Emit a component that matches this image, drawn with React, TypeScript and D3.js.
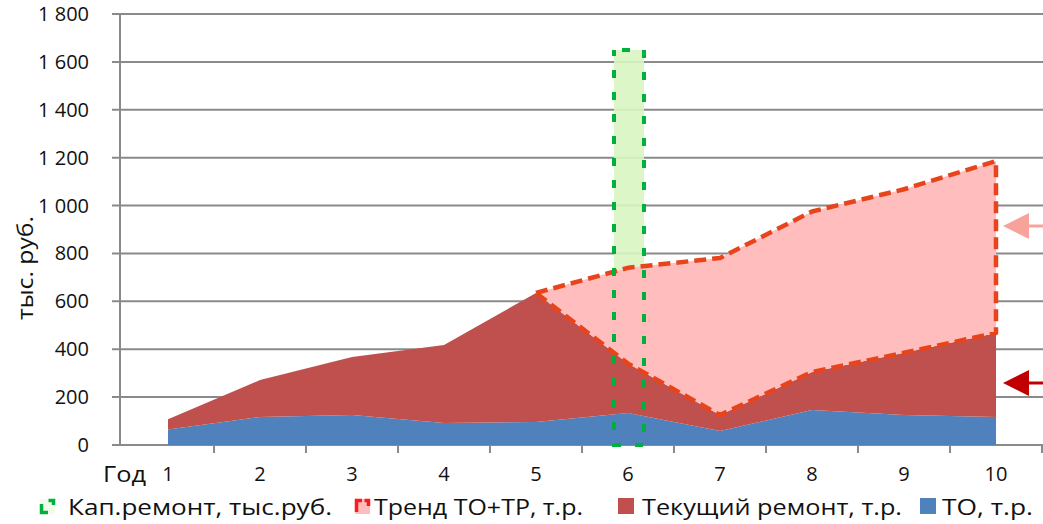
import React from "react";
import * as d3 from "d3";

const years = ["1", "2", "3", "4", "5", "6", "7", "8", "9", "10"];
const toValues = [65, 117, 125, 92, 96, 134, 58, 146, 125, 117];
const repairValues = [43, 154, 242, 326, 539, 206, 67, 159, 260, 351];
const trendTotal: (number | null)[] = [null, null, null, null, 635, 740, 781, 975, 1068, 1186];
const capRepair = [0, 0, 0, 0, 0, 1650, 0, 0, 0, 0];
const yTicks = [0, 200, 400, 600, 800, 1000, 1200, 1400, 1600, 1800];
const legendLabels = ["Кап.ремонт, тыс.руб.", "Тренд ТО+ТР, т.р.", "Текущий ремонт, т.р.", "ТО, т.р."];

const W = 1043;
const H = 524;
const FONT = "'Open Sans', 'DejaVu Sans', sans-serif";
const C_BLUE = "#4f81bd";
const C_RED = "#c0504d";
const C_PINK = "#ffbdbd";
const C_ORANGE = "#e8441c";
const C_GREEN = "#00b03c";
const C_GREEN_FILL = "#d9f5c1";
const C_GRID = "#8a8a8a";
const C_TEXT = "#111111";

function fmt(v: number) {
  const s = String(v);
  return s.length > 3 ? s.slice(0, s.length - 3) + "\u00a0" + s.slice(s.length - 3) : s;
}

export default function App() {
  const x = d3.scaleBand<string>().domain(years).range([122, 1042]).paddingInner(0).paddingOuter(0);
  const y = d3.scaleLinear().domain([0, 1800]).range([445, 14]);
  const cx = (i: number) => (x(years[i]) as number) + x.bandwidth() / 2;

  const stacked = years.map((_, i) => ({
    i,
    to: toValues[i],
    total: toValues[i] + repairValues[i],
    trend: trendTotal[i],
  }));

  const blueArea = d3
    .area<any>()
    .x((d) => cx(d.i))
    .y0(() => y(0))
    .y1((d) => y(d.to))(stacked) as string;

  const redArea = d3
    .area<any>()
    .x((d) => cx(d.i))
    .y0((d) => y(d.to))
    .y1((d) => y(d.total))(stacked) as string;

  const trendPts = stacked.filter((d) => d.trend !== null);
  const pinkArea = d3
    .area<any>()
    .x((d) => cx(d.i))
    .y0((d) => y(d.total))
    .y1((d) => y(d.trend))(trendPts) as string;

  const topLine = trendPts.map((d) => [cx(d.i), y(d.trend as number)] as [number, number]);
  const botLine = trendPts
    .slice()
    .reverse()
    .map((d) => [cx(d.i), y(d.total)] as [number, number]);
  const outline = d3.line()([...topLine, ...botLine]) as string;

  const barW = 30;
  const bars = capRepair
    .map((v, i) => ({ v, i }))
    .filter((d) => d.v > 0)
    .map((d) => ({ x: cx(d.i) - barW / 2 + 1, y: y(d.v), w: barW, h: y(0) - y(d.v) }));

  const boundaries = years.slice(1).map((yr) => x(yr) as number).concat([1042]);

  const arrow = (yy: number, color: string, key: string) => (
    <g key={key}>
      <line x1={1026} x2={1043} y1={yy} y2={yy} stroke={color} strokeWidth={3} />
      <path d={`M1003,${yy} L1029,${yy - 13} L1029,${yy + 13} Z`} fill={color} />
    </g>
  );

  return (
    <svg
      width={W}
      height={H}
      viewBox={`0 0 ${W} ${H}`}
      style={{ position: "absolute", left: 0, top: 0, display: "block", background: "#fff" }}
    >
      <rect x={0} y={0} width={W} height={H} fill="#fff" />
      {yTicks.map((t) => (
        <line key={"g" + t} x1={112} x2={W} y1={y(t)} y2={y(t)} stroke={C_GRID} strokeWidth={2} />
      ))}
      {bars.map((b, k) => (
        <rect key={"bf" + k} x={b.x} y={b.y} width={b.w} height={b.h} fill={C_GREEN_FILL} opacity={0.9} />
      ))}
      <path d={blueArea} fill={C_BLUE} />
      <path d={redArea} fill={C_RED} />
      <path d={pinkArea} fill={C_PINK} />
      <path
        d={outline}
        fill="none"
        stroke={C_ORANGE}
        strokeWidth={4.5}
        strokeDasharray="12 6"
        strokeLinejoin="round"
      />
      {bars.map((b, k) => (
        <rect
          key={"bo" + k}
          x={b.x}
          y={b.y}
          width={b.w}
          height={b.h}
          fill="none"
          stroke={C_GREEN}
          strokeWidth={4}
          strokeDasharray="8 14"
          strokeDashoffset={-8}
        />
      ))}
      <line x1={120} x2={120} y1={y(1800)} y2={y(0) + 1} stroke={C_GRID} strokeWidth={2} />
      {boundaries.map((bx, k) => (
        <line key={"xt" + k} x1={bx} x2={bx} y1={y(0)} y2={y(0) + 8} stroke={C_GRID} strokeWidth={2} />
      ))}
      {yTicks.map((t) => (
        <text
          key={"yl" + t}
          x={89}
          y={y(t) + 7}
          textAnchor="end"
          fontFamily={FONT}
          fontSize={20}
          fill={C_TEXT}
        >
          {fmt(t)}
        </text>
      ))}
      <text
        transform={`translate(33,268) rotate(-90)`}
        textAnchor="middle"
        fontFamily={FONT}
        fontSize={22}
        fill={C_TEXT}
        textLength={104}
        lengthAdjust="spacingAndGlyphs"
      >
        тыс. руб.
      </text>
      <text x={103} y={482} fontFamily={FONT} fontSize={22} fill={C_TEXT} textLength={43} lengthAdjust="spacingAndGlyphs">
        Год
      </text>
      {years.map((yr, i) => (
        <text key={"xl" + yr} x={cx(i)} y={481} textAnchor="middle" fontFamily={FONT} fontSize={20} fill={C_TEXT}>
          {yr}
        </text>
      ))}
      {arrow(226, "#f8a29c", "a1")}
      {arrow(383, "#c00000", "a2")}
      <g>
        <rect x={40} y={499} width={15} height={15} fill="#f2fbea" />
        <path d="M41.5,504 V512.5 H48" fill="none" stroke={C_GREEN} strokeWidth={3.5} />
        <path d="M48.5,500.5 H53.5 V505" fill="none" stroke={C_GREEN} strokeWidth={3.5} />
        <text x={68} y={515} fontFamily={FONT} fontSize={22} fill={C_TEXT} textLength={264} lengthAdjust="spacingAndGlyphs">
          {legendLabels[0]}
        </text>

        <rect x={355} y={499} width={15} height={15} fill={C_PINK} />
        <path d="M356.5,512 V500.5 H362" fill="none" stroke="#ff1a1a" strokeWidth={3.5} />
        <path d="M364.5,500.5 H368.5 V506" fill="none" stroke="#ff1a1a" strokeWidth={3.5} />
        <text x={374} y={515} fontFamily={FONT} fontSize={22} fill={C_TEXT} textLength={209} lengthAdjust="spacingAndGlyphs">
          {legendLabels[1]}
        </text>

        <rect x={618} y={498} width={16} height={16} fill={C_RED} />
        <text x={642} y={515} fontFamily={FONT} fontSize={22} fill={C_TEXT} textLength={260} lengthAdjust="spacingAndGlyphs">
          {legendLabels[2]}
        </text>

        <rect x={920} y={498} width={16} height={16} fill={C_BLUE} />
        <text x={942} y={515} fontFamily={FONT} fontSize={22} fill={C_TEXT} textLength={91} lengthAdjust="spacingAndGlyphs">
          {legendLabels[3]}
        </text>
      </g>
    </svg>
  );
}
